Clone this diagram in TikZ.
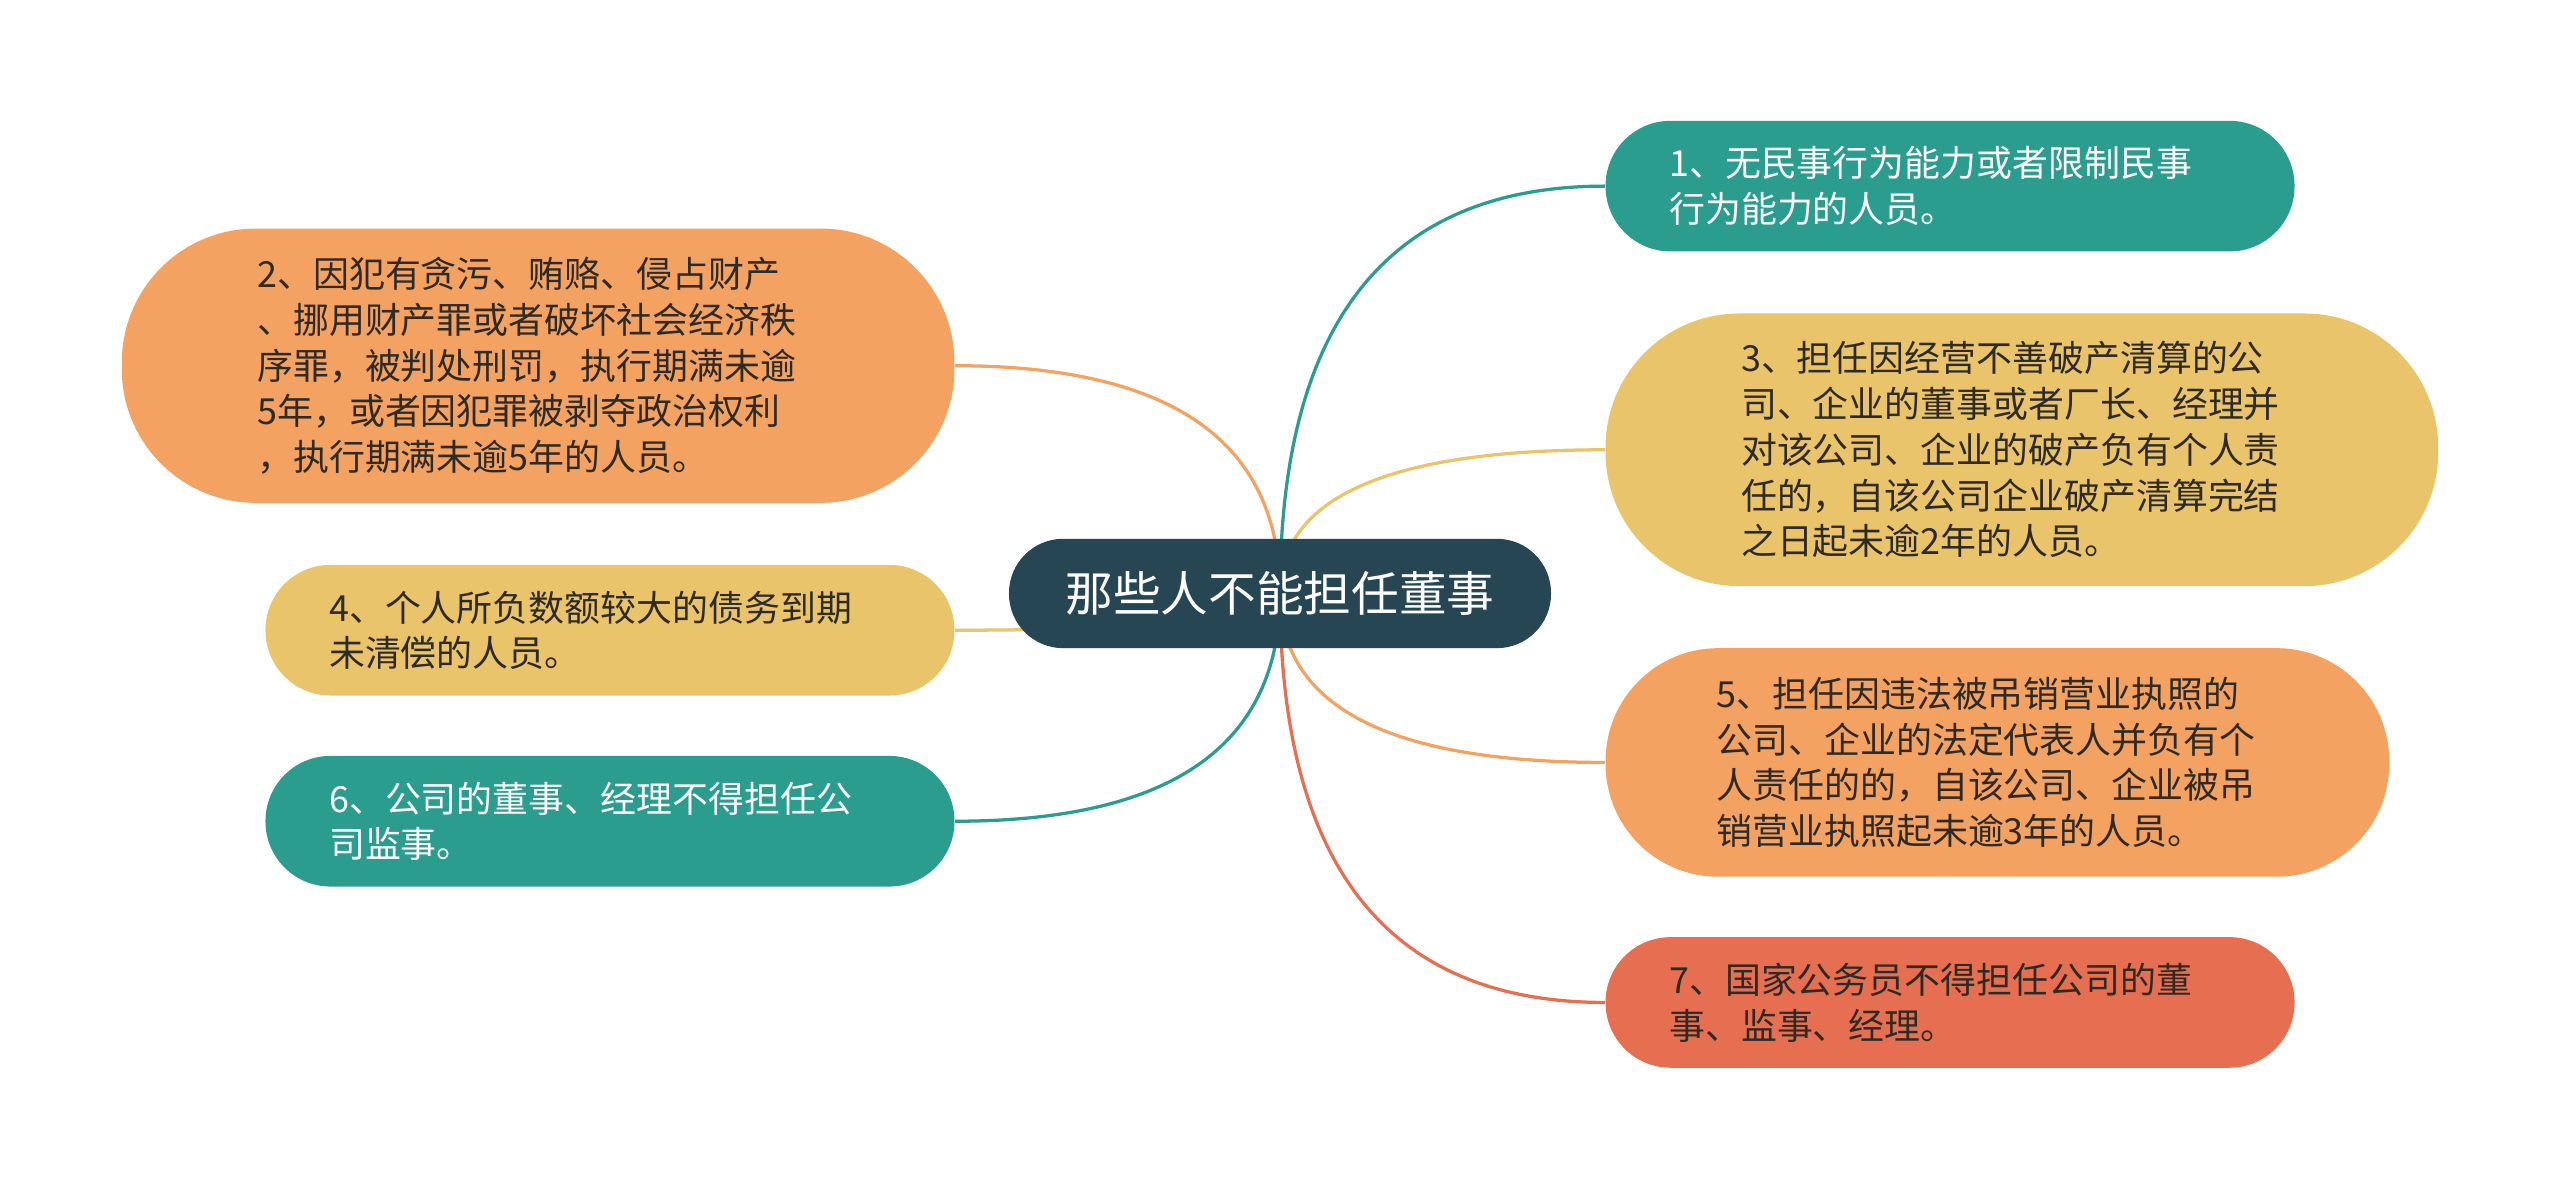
\documentclass[tikz,border=0pt]{standalone}
\usepackage{fontspec}
\newfontfamily\cjk{Noto Sans CJK SC}
\usepackage{tikz}
\usetikzlibrary{positioning, calc, backgrounds}
\definecolor{rootdark}{HTML}{264653}
\definecolor{leafteal}{HTML}{2A9D8F}
\definecolor{leafyellow}{HTML}{E9C46A}
\definecolor{leaforange}{HTML}{F4A261}
\definecolor{leafred}{HTML}{E76F51}
\definecolor{inkdark}{HTML}{2E2A26}
\tikzset{
  every node/.style={font=\cjk},
  rootbox/.style={
    rectangle, rounded corners=16.6pt, fill=rootdark, text=white,
    minimum width=166pt, minimum height=33.5pt,
    font=\cjk\fontsize{14.6pt}{18pt}\selectfont
  },
  leaf/.style={
    rectangle, rounded corners=19.9pt, inner xsep=0pt, inner ysep=7pt,
    align=left, text width=172pt, minimum width=211pt, minimum height=40pt,
    font=\cjk\fontsize{11pt}{14pt}\selectfont
  },
  tallleaf/.style={rounded corners=#1},
  tealleaf/.style={leaf, fill=leafteal, text=white},
  yellowleaf/.style={leaf, fill=leafyellow, text=inkdark},
  orangeleaf/.style={leaf, fill=leaforange, text=inkdark},
  redleaf/.style={leaf, fill=leafred, text=inkdark},
  link/.style={line width=1pt}
}

\begin{document}
\begin{tikzpicture}[x=0.5pt, y=-0.5pt]
\useasboundingbox (0,0) rectangle (1568,728);

% Central topic
\node[rootbox] (root) at (784,363.5) {那些人不能担任董事};

% Right branch
\node[tealleaf, anchor=west] (i1) at (983,114)
  {1、无民事行为能力或者限制民事\\行为能力的人员。};
\node[yellowleaf, tallleaf=41pt, anchor=west, minimum width=255pt, minimum height=83.5pt] (i3) at (983,275.5)
  {3、担任因经营不善破产清算的公\\司、企业的董事或者厂长、经理并\\对该公司、企业的破产负有个人责\\任的，自该公司企业破产清算完结\\之日起未逾2年的人员。};
\node[orangeleaf, tallleaf=34.5pt, anchor=west, minimum width=240pt, minimum height=70pt] (i5) at (983,467)
  {5、担任因违法被吊销营业执照的\\公司、企业的法定代表人并负有个\\人责任的的，自该公司、企业被吊\\销营业执照起未逾3年的人员。};
\node[redleaf, anchor=west] (i7) at (983,614)
  {7、国家公务员不得担任公司的董\\事、监事、经理。};

% Left branch
\node[orangeleaf, tallleaf=41pt, anchor=east, minimum width=255pt, minimum height=84pt] (i2) at (585,224)
  {2、因犯有贪污、贿赂、侵占财产\\、挪用财产罪或者破坏社会经济秩\\序罪，被判处刑罚，执行期满未逾\\5年，或者因犯罪被剥夺政治权利\\，执行期满未逾5年的人员。};
\node[yellowleaf, anchor=east] (i4) at (585,386)
  {4、个人所负数额较大的债务到期\\未清偿的人员。};
\node[tealleaf, anchor=east] (i6) at (585,503)
  {6、公司的董事、经理不得担任公\\司监事。};

% Links
\begin{scope}[on background layer]
\foreach \n/\a/\c in {i1/west/leafteal, i3/west/leafyellow, i5/west/leaforange,
                      i7/west/leafred, i2/east/leaforange, i4/east/leafyellow,
                      i6/east/leafteal} {
  \draw[link, \c] (root.center)
    .. controls ($(root.center)!0.667!(root.center |- \n.\a)$)
    and ($(\n.\a)!0.667!(root.center |- \n.\a)$) .. (\n.\a);
}
\end{scope}

\end{tikzpicture}
\end{document}
